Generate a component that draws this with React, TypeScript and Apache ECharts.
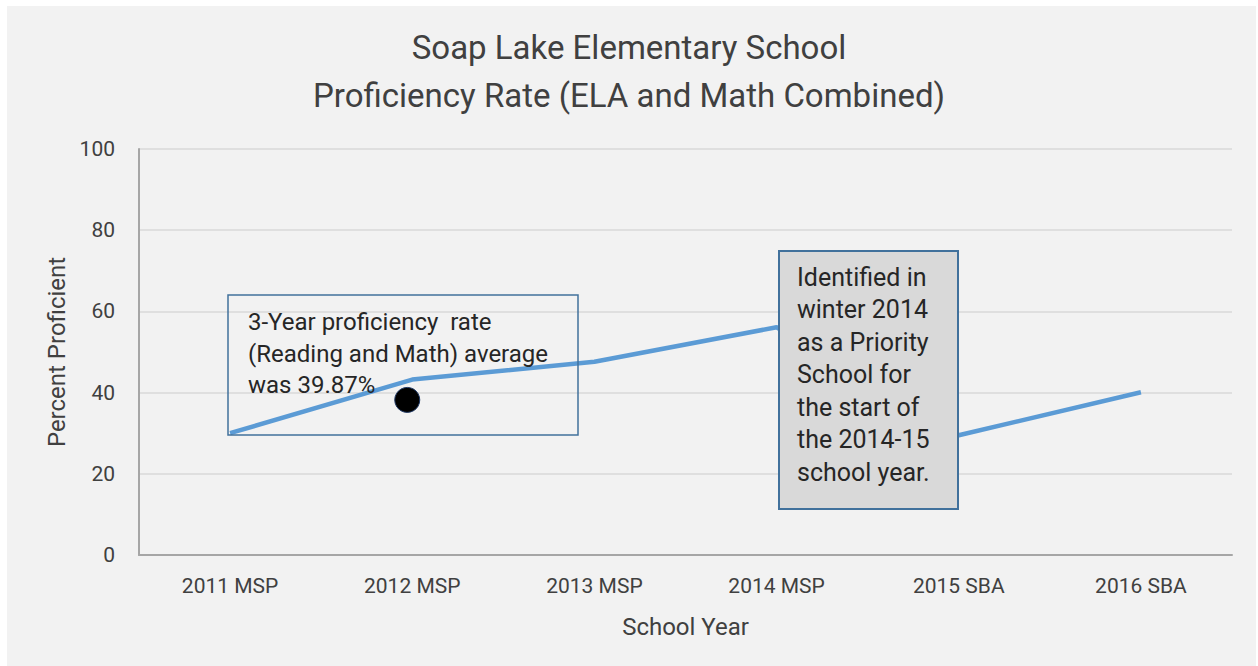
import React, { useEffect, useRef } from "react";
import * as echarts from "echarts";

const titleLines = ["Soap Lake Elementary School", "Proficiency Rate (ELA and Math Combined)"];
const categories = ["2011 MSP", "2012 MSP", "2013 MSP", "2014 MSP", "2015 SBA", "2016 SBA"];
const proficiency = [30.0, 43.2, 47.6, 56.1, 29.5, 40.1];
const averageMarker = [null, 38.2, null, null, null, null];
const yTicks = { min: 0, max: 100, interval: 20 };
const xAxisName = "School Year";
const yAxisName = "Percent Proficient";
const noteAverage = ["3-Year proficiency  rate", "(Reading and Math) average", "was 39.87%"];
const notePriority = [
  "Identified in",
  "winter 2014",
  "as a Priority",
  "School for",
  "the start of",
  "the 2014-15",
  "school year.",
];

const FONT = "Roboto, 'Noto Sans', sans-serif";

export default function App() {
  const ref = useRef<HTMLDivElement>(null);
  useEffect(() => {
    if (!ref.current) return;
    const chart = echarts.init(ref.current, undefined, { renderer: "svg" });
    chart.setOption({
      animation: false,
      backgroundColor: "transparent",
      textStyle: { fontFamily: FONT },
      title: {
        text: titleLines.join("\n"),
        left: "center",
        top: 23,
        padding: [0, 0, 0, 10],
        textStyle: {
          fontFamily: FONT,
          fontSize: 33,
          fontWeight: "normal",
          color: "#404040",
          lineHeight: 48,
        },
      },
      grid: { left: 139, right: 26, top: 149, bottom: 111, containLabel: false },
      xAxis: {
        type: "category",
        data: categories,
        boundaryGap: true,
        name: xAxisName,
        nameLocation: "middle",
        nameGap: 60,
        nameTextStyle: { fontFamily: FONT, fontSize: 24, color: "#404040" },
        axisTick: { show: false },
        axisLine: { show: true, lineStyle: { color: "#a6a6a6", width: 2 } },
        axisLabel: { fontFamily: FONT, fontSize: 21, color: "#404040", margin: 20 },
        splitLine: { show: false },
      },
      yAxis: {
        type: "value",
        min: yTicks.min,
        max: yTicks.max,
        interval: yTicks.interval,
        name: yAxisName,
        nameLocation: "middle",
        nameGap: 70,
        nameTextStyle: { fontFamily: FONT, fontSize: 24, color: "#404040" },
        axisLine: { show: true, lineStyle: { color: "#a6a6a6", width: 2 } },
        axisTick: { show: false },
        axisLabel: { fontFamily: FONT, fontSize: 21, color: "#404040", margin: 24 },
        splitLine: { show: true, lineStyle: { color: "#d9d9d9", width: 1.5 } },
      },
      series: [
        {
          type: "line",
          data: proficiency,
          showSymbol: false,
          symbol: "none",
          lineStyle: { color: "#5b9bd5", width: 4.5 },
          z: 2,
        },
        {
          type: "scatter",
          data: averageMarker,
          symbol: "circle",
          symbolSize: 25,
          symbolOffset: [-5, 0],
          itemStyle: { color: "#000000", borderColor: "#1f3864", borderWidth: 1, opacity: 1 },
          z: 3,
        },
      ],
      graphic: [
        {
          type: "rect",
          z: 50,
          shape: { x: 228, y: 295, width: 350, height: 140 },
          style: { fill: "none", stroke: "#41719c", lineWidth: 1.5 },
        },
        ...noteAverage.map((t, i) => ({
          type: "text",
          z: 51,
          x: 248,
          y: 322 + i * 31.5,
          style: {
            text: t,
            font: `24px ${FONT}`,
            fill: "#262626",
            textAlign: "left",
            textVerticalAlign: "middle",
          },
        })),
        {
          type: "rect",
          z: 60,
          shape: { x: 779, y: 251, width: 179, height: 258 },
          style: { fill: "#d9d9d9", stroke: "#41719c", lineWidth: 2 },
        },
        ...notePriority.map((t, i) => ({
          type: "text",
          z: 61,
          x: 797,
          y: 277 + i * 32.5,
          style: {
            text: t,
            font: `25px ${FONT}`,
            fill: "#262626",
            textAlign: "left",
            textVerticalAlign: "middle",
          },
        })),
      ],
    });
    return () => chart.dispose();
  }, []);

  return (
    <div style={{ position: "fixed", left: 0, top: 0, width: 1258, height: 666, background: "#ffffff" }}>
      <div style={{ position: "absolute", left: 7, top: 6, width: 1249, height: 660, background: "#f2f2f2" }} />
      <div ref={ref} style={{ position: "absolute", left: 0, top: 0, width: 1258, height: 666 }} />
    </div>
  );
}
